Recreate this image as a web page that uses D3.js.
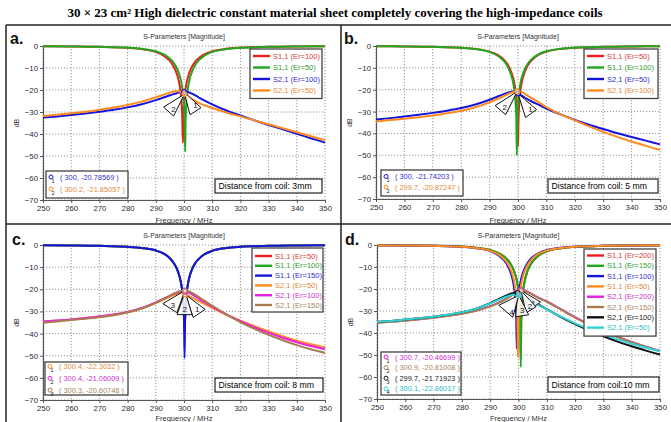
<!DOCTYPE html>
<html>
<head>
<meta charset="utf-8">
<script src="https://cdn.jsdelivr.net/npm/d3@7"></script>
<style>
  body { margin: 0; background: #fff; }
  svg { display: block; font-family: "Liberation Sans", Arial, sans-serif; }
</style>
</head>
<body>
<svg id="fig" width="671" height="422"></svg>
<script>
// ---------------- data ----------------
const xTicks = [250, 260, 270, 280, 290, 300, 310, 320, 330, 340, 350];
const yTicks = [0, -10, -20, -30, -40, -50, -60, -70];

// frequency samples (MHz) for reflection (S1,1) and transmission (S2,1) traces
const freqS11 = [250,260,270,280,285,290,293,295,296,297,298,298.5,299,299.2,299.4,299.6,299.8,300,300.2,300.4,300.6,300.8,301,301.5,302,303,304,305,307,310,315,320,330,340,350];
const freqS21 = [250,255,260,265,270,275,280,285,290,293,295,297,298,299,300,301,302,303,305,307,310,315,320,325,330,335,340,345,350];

// (a) distance 3 mm
const a_S11_er100 = [-0.14,-0.21,-0.38,-0.83,-1.4,-2.7,-4.6,-6.8,-8.6,-11.2,-15.1,-18.3,-23.5,-27,-33,-44,-33,-27,-23.5,-21,-19.1,-17.6,-16.2,-13.7,-11.8,-9.0,-7.1,-5.8,-3.9,-2.4,-1.3,-0.78,-0.36,-0.2,-0.14];
const a_S11_er50  = [-0.14,-0.2,-0.36,-0.78,-1.3,-2.4,-3.9,-5.8,-7.1,-9.0,-11.8,-13.7,-16.2,-17.6,-19.1,-21,-23.5,-27,-33,-48,-33,-27,-23.5,-18.3,-15.1,-11.2,-8.6,-6.8,-4.6,-2.7,-1.4,-0.83,-0.38,-0.21,-0.14];
const a_S21_er100 = [-32.5,-32.0,-31.4,-30.7,-29.9,-29.0,-27.9,-26.5,-24.6,-23.3,-22.4,-21.6,-21.2,-20.9,-20.79,-20.8,-21.2,-21.8,-23.2,-24.6,-26.5,-29.3,-31.6,-33.8,-35.9,-37.9,-39.9,-41.9,-43.9];
const a_S21_er50  = [-31.8,-31.2,-30.6,-29.9,-29.0,-28.0,-26.8,-25.3,-23.3,-22.0,-21.2,-20.6,-20.6,-21.0,-21.7,-22.5,-23.4,-24.2,-25.7,-26.8,-28.2,-30.2,-32.0,-33.8,-35.6,-37.4,-39.2,-41.0,-42.8];
const a_markers = [[300, -20.78569], [300.2, -21.85057]];

// (b) distance 5 mm
const b_S11_er50  = [-0.14,-0.21,-0.37,-0.8,-1.34,-2.6,-4.2,-6.3,-7.8,-10,-13.3,-15.6,-19.1,-21,-23.5,-27,-33,-46,-33,-27,-23.5,-21,-19.1,-15.6,-13.3,-10,-7.8,-6.3,-4.2,-2.6,-1.34,-0.8,-0.37,-0.21,-0.14];
const b_S11_er100 = [-0.14,-0.21,-0.38,-0.83,-1.4,-2.7,-4.6,-6.8,-8.6,-11.2,-15.1,-18.3,-23.5,-27,-33,-50,-33,-27,-23.5,-21,-19.1,-17.6,-16.2,-13.7,-11.8,-9.0,-7.1,-5.8,-3.9,-2.4,-1.3,-0.78,-0.36,-0.2,-0.14];
const b_S21_er50  = [-33.6,-33.0,-32.3,-31.5,-30.6,-29.6,-28.4,-26.8,-24.6,-23.0,-22.0,-21.1,-20.8,-21.0,-21.74,-22.5,-23.3,-24.1,-25.5,-26.7,-28.6,-31.3,-33.8,-36.0,-38.0,-39.9,-41.6,-43.3,-45.0];
const b_S21_er100 = [-34.5,-33.9,-33.3,-32.6,-31.8,-30.8,-29.6,-28.0,-25.8,-24.1,-22.9,-21.7,-21.2,-20.9,-20.85,-21.0,-21.6,-22.4,-24.0,-25.5,-28.0,-31.3,-34.0,-36.8,-39.3,-41.6,-43.7,-45.7,-47.5];
const b_markers = [[300, -21.74203], [299.7, -20.87247]];

// (c) distance 8 mm
const c_S11_er50  = [-0.14,-0.21,-0.37,-0.81,-1.37,-2.5,-4.05,-6.0,-7.5,-9.5,-12.5,-14.6,-17.6,-19.1,-21,-23.5,-27,-33,-36,-33,-27,-23.5,-21,-16.9,-14.1,-10.5,-8.2,-6.6,-4.4,-2.65,-1.37,-0.81,-0.37,-0.21,-0.14];
const c_S11_er100 = [-0.14,-0.21,-0.37,-0.81,-1.37,-2.5,-4.05,-6.0,-7.5,-9.5,-12.5,-14.6,-17.6,-19.1,-21,-23.5,-27,-33,-40,-33,-27,-23.5,-21,-16.9,-14.1,-10.5,-8.2,-6.6,-4.4,-2.65,-1.37,-0.81,-0.37,-0.21,-0.14];
const c_S11_er150 = [-0.14,-0.21,-0.37,-0.81,-1.37,-2.5,-4.05,-6.0,-7.5,-9.5,-12.5,-14.6,-17.6,-19.1,-21,-23.5,-27,-33,-51,-33,-27,-23.5,-21,-16.9,-14.1,-10.5,-8.2,-6.6,-4.4,-2.65,-1.37,-0.81,-0.37,-0.21,-0.14];
const c_S21_er50  = [-34.6,-34.1,-33.6,-33.0,-32.3,-31.4,-30.3,-28.6,-26.2,-24.5,-23.3,-22.3,-21.9,-21.8,-22.1,-22.6,-23.2,-23.9,-25.2,-26.5,-28.4,-31.5,-34.2,-36.7,-39.0,-41.2,-43.2,-44.8,-46.2];
const c_S21_er100 = [-34.6,-34.1,-33.6,-33.0,-32.3,-31.4,-30.2,-28.4,-25.9,-24.1,-22.9,-21.7,-21.3,-21.05,-21.0,-21.15,-21.7,-22.4,-24.0,-25.6,-27.8,-31.3,-34.4,-37.2,-39.7,-41.9,-43.9,-45.6,-47.0];
const c_S21_er150 = [-35.1,-34.5,-33.9,-33.3,-32.6,-31.7,-30.5,-28.7,-26.1,-24.2,-22.9,-21.6,-21.1,-20.8,-20.6,-20.63,-21.1,-21.7,-23.3,-25.0,-27.4,-31.3,-34.8,-37.9,-40.6,-43.0,-45.2,-47.1,-48.8];
const c_markers = [[300.4, -22.3032], [300.4, -21.06009], [300.3, -20.60748]];

// (d) distance 10 mm
const d_S11_er200 = [-0.14,-0.2,-0.35,-0.74,-1.22,-2.25,-3.7,-5.3,-6.6,-8.2,-10.5,-12.1,-14.1,-15.1,-16.2,-17.6,-19.1,-21,-23.5,-27,-33,-52,-33,-22.2,-17.6,-12.5,-9.5,-7.5,-4.9,-2.9,-1.48,-0.86,-0.39,-0.22,-0.15];
const d_S11_er150 = [-0.14,-0.2,-0.35,-0.74,-1.22,-2.25,-3.7,-5.3,-6.6,-8.2,-10.5,-12.1,-14.1,-15.1,-16.2,-17.6,-19.1,-21,-23.5,-27,-33,-55.5,-33,-22.2,-17.6,-12.5,-9.5,-7.5,-4.9,-2.9,-1.48,-0.86,-0.39,-0.22,-0.15];
const d_S11_er100 = [-0.14,-0.21,-0.38,-0.85,-1.45,-2.8,-4.8,-7.1,-9.0,-11.8,-16.2,-20,-27,-33,-47,-33,-27,-23.5,-21,-19.1,-17.6,-16.2,-15.1,-12.9,-11.2,-8.6,-6.8,-5.5,-3.8,-2.35,-1.28,-0.76,-0.36,-0.2,-0.14];
const d_S11_er50  = [-0.14,-0.21,-0.37,-0.81,-1.37,-2.65,-4.4,-6.6,-8.2,-10.5,-14.1,-16.9,-21,-23.5,-27,-33,-51,-33,-27,-23.5,-21,-19.1,-17.6,-14.6,-12.5,-9.5,-7.5,-6.0,-4.05,-2.5,-1.32,-0.79,-0.37,-0.2,-0.14];
const d_S21_er200 = [-35.3,-34.8,-34.3,-33.7,-33.0,-32.2,-31.2,-29.8,-27.8,-26.2,-24.9,-23.3,-22.4,-21.5,-20.65,-20.4,-20.6,-21.1,-22.5,-23.9,-25.6,-29.2,-32.8,-36.1,-39.0,-41.7,-44.1,-46.2,-48.1];
const d_S21_er150 = [-35.4,-34.9,-34.4,-33.8,-33.1,-32.3,-31.3,-29.9,-27.9,-26.3,-25.0,-23.5,-22.6,-21.8,-21.1,-20.8,-20.9,-21.3,-22.6,-24.0,-25.8,-29.4,-33.0,-36.3,-39.2,-41.8,-44.2,-46.2,-48.2];
const d_S21_er100 = [-35.0,-34.5,-33.9,-33.3,-32.6,-31.7,-30.6,-28.9,-26.4,-24.6,-23.4,-22.3,-21.9,-21.7,-21.75,-22.3,-23.0,-23.8,-25.4,-27.0,-29.2,-32.8,-36.0,-38.9,-41.5,-43.9,-46.0,-48.0,-49.8];
const d_S21_er50  = [-35.0,-34.5,-33.9,-33.3,-32.6,-31.7,-30.6,-29.0,-26.6,-24.9,-23.8,-22.9,-22.6,-22.6,-22.85,-23.2,-23.8,-24.5,-25.9,-27.3,-29.3,-32.6,-35.6,-38.3,-40.7,-42.9,-44.9,-46.7,-48.4];
const d_markers = [[300.7, -20.46699], [300.9, -20.81008], [299.7, -21.71923], [300.1, -22.86017]];

const distanceLabels = ["Distance from coil: 3mm", "Distance from coil: 5 mm", "Distance from coil: 8 mm", "Distance from coil:10 mm"];

// ---------------- styling ----------------
const col = {
  red: "#f01c1c", green: "#1fa81f", blue: "#1414dc", orange: "#ff8a1e",
  magenta: "#e81ee8", brown: "#a97c4e", black: "#111111", cyan: "#2fd3d6"
};
const txtCol = {
  red: "#d83a3a", green: "#2e9e2e", blue: "#2f2fcf", orange: "#e08a3a",
  magenta: "#cc33cc", brown: "#a8845c", black: "#222222", cyan: "#2cbcc4"
};

const panels = [
  {
    letter: "a.", letterPos: [10, 44],
    box: { x0: 43, x1: 325, y0: 46, y1: 200 }, freqLabelY: 222.5,
    s11: [["S1,1 (Er=100)", a_S11_er100, "red"], ["S1,1 (Er=50)", a_S11_er50, "green"]],
    s21: [["S2,1 (Er=100)", a_S21_er100, "blue"], ["S2,1 (Er=50)", a_S21_er50, "orange"]],
    markers: a_markers, markerCols: ["blue", "orange"],
    legend: { x: 250, y: 49, w: 72, r0: 56, dy: 11.5 },
    list: { x: 46, y: 171, w: 82, h: 27, r0: 177, dy: 12 },
    dist: { x: 215, y: 179, w: 107, h: 14, text: distanceLabels[0] },
    tris: [
      { p: [[6, 23], [17, 16]], t: [11.5, 14] },
      { p: [[-21, 13], [-11, 22]], t: [-11, 15.5] }
    ]
  },
  {
    letter: "b.", letterPos: [344, 44],
    box: { x0: 376, x1: 660, y0: 46, y1: 199 }, freqLabelY: 222.5,
    s11: [["S1,1 (Er=50)", b_S11_er50, "red"], ["S1,1 (Er=100)", b_S11_er100, "green"]],
    s21: [["S2,1 (Er=50)", b_S21_er50, "blue"], ["S2,1 (Er=100)", b_S21_er100, "orange"]],
    markers: b_markers, markerCols: ["blue", "orange"],
    legend: { x: 584, y: 49, w: 74, r0: 56, dy: 11.5 },
    list: { x: 381, y: 170, w: 82, h: 26, r0: 176.5, dy: 10.5 },
    dist: { x: 548, y: 179, w: 110, h: 14, text: distanceLabels[1] },
    tris: [
      { p: [[7.5, 24], [18.5, 16]], t: [12.5, 15.5] },
      { p: [[-22, 14], [-11.5, 23]], t: [-12.5, 15.5] }
    ]
  },
  {
    letter: "c.", letterPos: [12, 245],
    box: { x0: 43, x1: 325, y0: 245, y1: 400 }, freqLabelY: 421,
    s11: [["S1,1 (Er=50)", c_S11_er50, "red"], ["S1,1 (Er=100)", c_S11_er100, "green"], ["S1,1 (Er=150)", c_S11_er150, "blue"]],
    s21: [["S2,1 (Er=50)", c_S21_er50, "orange"], ["S2,1 (Er=100)", c_S21_er100, "magenta"], ["S2,1 (Er=150)", c_S21_er150, "brown"]],
    markers: c_markers, markerCols: ["orange", "magenta", "brown"],
    legend: { x: 252, y: 248, w: 71, r0: 256, dy: 9.8 },
    list: { x: 45, y: 362, w: 83, h: 33, r0: 366.5, dy: 11.8 },
    dist: { x: 215, y: 378, w: 108, h: 14, text: distanceLabels[2] },
    tris: [
      { p: [[8, 23], [20, 15]], t: [12, 15] },
      { p: [[-8, 23], [7, 23]], t: [-0.5, 18] },
      { p: [[-22, 13], [-8, 22]], t: [-12, 14.5] }
    ]
  },
  {
    letter: "d.", letterPos: [345, 245],
    box: { x0: 377, x1: 660, y0: 245, y1: 399 }, freqLabelY: 421,
    s11: [["S1,1 (Er=200)", d_S11_er200, "red"], ["S1,1 (Er=150)", d_S11_er150, "green"], ["S1,1 (Er=100)", d_S11_er100, "blue"], ["S1,1 (Er=50)", d_S11_er50, "orange"]],
    s21: [["S2,1 (Er=200)", d_S21_er200, "magenta"], ["S2,1 (Er=150)", d_S21_er150, "brown"], ["S2,1 (Er=100)", d_S21_er100, "black"], ["S2,1 (Er=50)", d_S21_er50, "cyan"]],
    markers: d_markers, markerCols: ["magenta", "brown", "black", "cyan"],
    legend: { x: 584, y: 249, w: 72, r0: 255.5, dy: 10.3 },
    list: { x: 381, y: 352, w: 80, h: 43, r0: 357, dy: 10.6 },
    dist: { x: 548, y: 377, w: 111, h: 15, text: distanceLabels[3] },
    tris: [
      { p: [[9, 20], [20, 12]], t: [13, 13] },
      { p: [[5, 22], [15, 16]], t: [9, 16] },
      { p: [[-2, 24], [11, 22]], t: [4.5, 18] },
      { p: [[-20, 10], [-6, 22]], t: [-7, 17] }
    ]
  }
];

// ---------------- drawing ----------------
const svg = d3.select("#fig");

svg.append("text")
  .attr("x", 335).attr("y", 17)
  .attr("text-anchor", "middle")
  .style("font-family", "'Liberation Serif', 'Times New Roman', serif")
  .style("font-weight", "bold").style("font-size", "13px")
  .text("30 × 23 cm² High dielectric constant material sheet completely covering the high-impedance coils");

panels.forEach((P, pi) => {
  const g = svg.append("g");
  const B = P.box;
  const x = d3.scaleLinear().domain([250, 350]).range([B.x0, B.x1]);
  const y = d3.scaleLinear().domain([-70, 0]).range([B.y1, B.y0]);

  // dotted grid
  g.append("g").selectAll("line").data(xTicks).join("line")
    .attr("x1", d => x(d)).attr("x2", d => x(d)).attr("y1", B.y0).attr("y2", B.y1)
    .attr("stroke", "#8a8a8a").attr("stroke-width", 0.9).attr("stroke-dasharray", "1.2,1.8");
  g.append("g").selectAll("line").data(yTicks).join("line")
    .attr("x1", B.x0).attr("x2", B.x1).attr("y1", d => y(d)).attr("y2", d => y(d))
    .attr("stroke", "#8a8a8a").attr("stroke-width", 0.9).attr("stroke-dasharray", "1.2,1.8");

  // axes
  const ax = g.append("g").attr("transform", `translate(0,${B.y1})`)
    .call(d3.axisBottom(x).tickValues(xTicks).tickSize(3).tickPadding(2.5).tickSizeOuter(0));
  const ay = g.append("g").attr("transform", `translate(${B.x0},0)`)
    .call(d3.axisLeft(y).tickValues(yTicks).tickSize(3).tickPadding(2).tickSizeOuter(0));
  [ax, ay].forEach(a => {
    a.select(".domain").attr("stroke", "#555").attr("stroke-width", 1.2);
    a.selectAll(".tick line").attr("stroke", "#555");
    a.selectAll(".tick text").attr("fill", "#2a2a2a").style("font-size", "7.8px")
      .style("font-family", "'Liberation Sans', Arial, sans-serif");
  });

  // titles
  g.append("text").attr("x", (B.x0 + B.x1) / 2).attr("y", B.y0 - 7.5)
    .attr("text-anchor", "middle").attr("fill", "#333").style("font-size", "7px")
    .text("S-Parameters [Magnitude]");
  g.append("text").attr("x", (B.x0 + B.x1) / 2).attr("y", P.freqLabelY)
    .attr("text-anchor", "middle").attr("fill", "#333").style("font-size", "7.5px")
    .text("Frequency / MHz");
  g.append("text").attr("transform", `translate(${B.x0 - 24},${(B.y0 + B.y1) / 2}) rotate(-90)`)
    .attr("text-anchor", "middle").attr("fill", "#333").style("font-size", "7px")
    .text("dB");
  g.append("text").attr("x", P.letterPos[0]).attr("y", P.letterPos[1])
    .style("font-weight", "bold").style("font-size", "16px").attr("fill", "#111")
    .text(P.letter);

  // curves
  const clipId = "clip" + pi;
  svg.append("clipPath").attr("id", clipId).append("rect")
    .attr("x", B.x0).attr("y", B.y0 - 2).attr("width", B.x1 - B.x0 + 1).attr("height", B.y1 - B.y0 + 2);
  const plot = g.append("g").attr("clip-path", `url(#${clipId})`);
  const line = d3.line().x(d => x(d[0])).y(d => y(d[1])).curve(d3.curveMonotoneX);
  const series = [
    ...P.s11.map(s => ({ label: s[0], pts: freqS11.map((f, i) => [f, s[1][i]]), c: s[2] })),
    ...P.s21.map(s => ({ label: s[0], pts: freqS21.map((f, i) => [f, s[1][i]]), c: s[2] }))
  ];
  series.forEach(s => {
    plot.append("path").attr("d", line(s.pts)).attr("fill", "none")
      .attr("stroke", col[s.c]).attr("stroke-width", 2).attr("stroke-linejoin", "round");
  });

  // marker callouts
  P.markers.forEach((m, i) => {
    const tx = x(m[0]), ty = y(m[1]);
    const T = P.tris[i];
    g.append("polygon")
      .attr("points", [[tx, ty], [tx + T.p[0][0], ty + T.p[0][1]], [tx + T.p[1][0], ty + T.p[1][1]]].map(p => p.join(",")).join(" "))
      .attr("fill", "#fff").attr("fill-opacity", 0.85).attr("stroke", "#111").attr("stroke-width", 1);
    g.append("text").attr("x", tx + T.t[0]).attr("y", ty + T.t[1])
      .attr("text-anchor", "middle").attr("dominant-baseline", "central")
      .style("font-size", "8px").attr("fill", "#111").text(i + 1);
  });
  P.markers.forEach((m, i) => {
    g.append("circle").attr("cx", x(m[0])).attr("cy", y(m[1])).attr("r", 2.3)
      .attr("fill", "#fff").attr("fill-opacity", 0.6)
      .attr("stroke", col[P.markerCols[i]]).attr("stroke-width", 1.1);
  });

  // legend
  const L = P.legend;
  g.append("rect").attr("x", L.x).attr("y", L.y).attr("width", L.w)
    .attr("height", (series.length - 1) * L.dy + 15)
    .attr("fill", "#fff").attr("stroke", "#444").attr("stroke-width", 1.3);
  series.forEach((s, i) => {
    const ry = L.r0 + i * L.dy;
    g.append("line").attr("x1", L.x + 3).attr("x2", L.x + 20).attr("y1", ry).attr("y2", ry)
      .attr("stroke", col[s.c]).attr("stroke-width", 2.4);
    g.append("text").attr("x", L.x + 23).attr("y", ry).attr("dominant-baseline", "central")
      .style("font-size", "7.5px").attr("fill", txtCol[s.c]).text(s.label);
  });

  // marker readout list
  const M = P.list;
  g.append("rect").attr("x", M.x).attr("y", M.y).attr("width", M.w).attr("height", M.h)
    .attr("fill", "#fff").attr("stroke", "#333").attr("stroke-width", 1.2);
  P.markers.forEach((m, i) => {
    const ry = M.r0 + i * M.dy;
    const c = P.markerCols[i];
    g.append("circle").attr("cx", M.x + 5).attr("cy", ry).attr("r", 2)
      .attr("fill", "none").attr("stroke", col[c]).attr("stroke-width", 1);
    g.append("text").attr("x", M.x + 7).attr("y", ry + 5.5).attr("text-anchor", "middle")
      .style("font-size", "5.5px").attr("fill", "#222").text(i + 1);
    g.append("text").attr("x", M.x + 14).attr("y", ry).attr("dominant-baseline", "central")
      .style("font-size", "7.4px").attr("fill", txtCol[c])
      .text(`( ${m[0]}, ${m[1]} )`);
  });

  // distance annotation
  const D = P.dist;
  g.append("rect").attr("x", D.x).attr("y", D.y).attr("width", D.w).attr("height", D.h)
    .attr("fill", "#fff").attr("stroke", "#222").attr("stroke-width", 1.2);
  g.append("text").attr("x", D.x + 3.5).attr("y", D.y + D.h / 2).attr("dominant-baseline", "central")
    .style("font-size", "8.7px").attr("fill", "#000").text(D.text);
});

// panel frame lines
const frame = svg.append("g").attr("stroke", "#222").attr("stroke-width", 1.5);
frame.append("line").attr("x1", 6).attr("x2", 671).attr("y1", 25).attr("y2", 25);
frame.append("line").attr("x1", 6).attr("x2", 671).attr("y1", 224).attr("y2", 224);
frame.append("line").attr("x1", 6).attr("x2", 6).attr("y1", 25).attr("y2", 422);
frame.append("line").attr("x1", 341).attr("x2", 341).attr("y1", 25).attr("y2", 422);
</script>
</body>
</html>
